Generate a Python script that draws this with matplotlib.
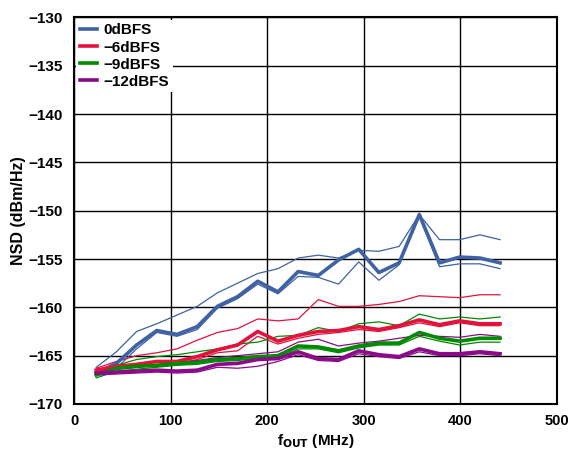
import matplotlib
matplotlib.use("Agg")
import matplotlib.pyplot as plt

plt.rcParams['font.family'] = ['Liberation Sans', 'DejaVu Sans']
plt.rcParams['font.weight'] = 'bold'

freq_mhz = [23.0, 43.9, 64.8, 85.7, 106.6, 127.5, 148.4, 169.3, 190.2, 211.1, 232.0,
            252.9, 273.8, 294.7, 315.6, 336.5, 357.4, 378.3, 399.2, 420.1, 441.0]

# 0 dBFS: typical plus upper/lower spread
nsd_0_typ = [-166.8, -165.8, -163.9, -162.4, -162.8, -162.0, -159.9, -158.9, -157.3, -158.4, -156.3,
             -156.7, -155.1, -154.0, -156.4, -155.4, -150.4, -155.4, -154.8, -154.9, -155.4]
nsd_0_hi = [-166.2, -164.6, -162.5, -161.7, -160.8, -159.9, -158.5, -157.5, -156.5, -156.0, -154.9,
            -154.6, -154.9, -154.1, -154.2, -153.7, -150.4, -153.0, -153.0, -152.5, -153.0]
nsd_0_lo = [-167.0, -166.3, -164.3, -162.6, -163.0, -162.3, -160.1, -159.1, -157.6, -158.6, -156.8,
            -156.9, -157.6, -155.3, -157.2, -155.6, -150.6, -155.8, -155.5, -155.5, -156.0]

# -6 dBFS
nsd_6_typ = [-166.5, -166.1, -165.9, -165.6, -165.6, -165.1, -164.4, -163.9, -162.5, -163.5, -162.9,
             -162.5, -162.4, -162.0, -162.3, -161.9, -161.3, -161.8, -161.4, -161.7, -161.7]
nsd_6_hi = [-166.3, -165.6, -165.0, -164.7, -164.3, -163.4, -162.6, -162.2, -161.2, -161.4, -161.2,
            -159.2, -159.9, -159.9, -159.7, -159.4, -158.8, -158.9, -159.0, -158.7, -158.7]
nsd_6_lo = [-166.8, -166.4, -166.2, -165.9, -165.8, -165.4, -164.7, -164.5, -163.0, -163.8, -163.2,
            -162.8, -162.6, -162.3, -162.5, -162.1, -161.6, -162.0, -161.6, -161.9, -161.9]

# -9 dBFS
nsd_9_typ = [-167.0, -166.3, -166.1, -166.0, -165.8, -165.7, -165.4, -165.3, -165.1, -165.0, -164.0,
             -164.1, -164.5, -164.0, -163.7, -163.7, -162.6, -163.2, -163.5, -163.2, -163.2]
nsd_9_hi = [-166.8, -166.0, -165.4, -165.1, -164.9, -164.6, -164.3, -163.8, -163.6, -163.0, -162.9,
            -162.1, -162.5, -161.7, -161.5, -161.9, -160.7, -161.2, -161.0, -161.2, -161.0]
nsd_9_lo = [-167.3, -166.6, -166.4, -166.2, -166.0, -165.9, -165.6, -165.5, -165.3, -165.2, -164.3,
            -164.3, -164.7, -164.2, -163.9, -163.9, -163.0, -163.5, -163.9, -163.6, -163.6]

# -12 dBFS
nsd_12_typ = [-166.8, -166.7, -166.6, -166.5, -166.6, -166.5, -165.9, -165.8, -165.4, -165.3, -164.6,
              -165.3, -165.4, -164.5, -164.9, -165.1, -164.3, -164.8, -164.8, -164.6, -164.8]
nsd_12_hi = [-166.6, -166.4, -166.2, -166.0, -165.7, -165.5, -165.2, -165.0, -164.8, -164.6, -163.6,
             -163.3, -164.0, -163.7, -163.5, -163.2, -162.9, -163.0, -163.1, -162.8, -163.0]
nsd_12_lo = [-167.0, -166.9, -166.8, -166.7, -166.8, -166.7, -166.2, -166.3, -166.1, -165.6, -164.9,
             -165.5, -165.6, -164.8, -165.1, -165.3, -164.6, -165.0, -165.0, -164.8, -165.0]

series = [
    ("0dBFS", "#3E62A3", nsd_0_typ, nsd_0_hi, nsd_0_lo),
    ("\u22126dBFS", "#E3123C", nsd_6_typ, nsd_6_hi, nsd_6_lo),
    ("\u22129dBFS", "#008A00", nsd_9_typ, nsd_9_hi, nsd_9_lo),
    ("\u221212dBFS", "#8A0A8A", nsd_12_typ, nsd_12_hi, nsd_12_lo),
]

fig = plt.figure(figsize=(5.71, 4.57), dpi=100)
ax = fig.add_axes([0.1296, 0.116, 0.846, 0.846])

handles = []
for label, color, typ, hi, lo in series:
    ax.plot(freq_mhz, hi, color=color, lw=0.9, zorder=3)
    ax.plot(freq_mhz, lo, color=color, lw=0.9, zorder=3)
    h, = ax.plot(freq_mhz, typ, color=color, lw=2.6, zorder=4, label=label)
    handles.append(h)

ax.set_xlim(0, 500)
ax.set_ylim(-170, -130)
ax.set_xticks(range(0, 501, 100))
ax.set_yticks(range(-170, -129, 5))
ax.set_yticklabels([f"\u2212{abs(v)}" for v in range(-170, -129, 5)])
ax.grid(True, color="black", lw=1.0, zorder=1)
ax.set_axisbelow(True)
ax.tick_params(axis='y', length=0, labelsize=11, pad=8)
ax.tick_params(axis='x', length=0, labelsize=10.5, pad=7)
for lbl in ax.get_xticklabels() + ax.get_yticklabels():
    lbl.set_fontweight('bold')
for sp in ax.spines.values():
    sp.set_linewidth(1.5)
    sp.set_color("black")

ax.set_xlabel(r"f$_{\mathbf{OUT}}$ (MHz)", fontsize=11, fontweight='bold', labelpad=3)
ax.set_ylabel("NSD (dBm/Hz)", fontsize=11.5, fontweight='bold', labelpad=2)

leg = ax.legend(handles=handles, loc="upper left", frameon=True, fancybox=False,
                edgecolor="none", facecolor="white", framealpha=1.0,
                prop={'weight': 'bold', 'size': 11}, handlelength=1.1,
                handletextpad=0.45, labelspacing=0.2, borderpad=0.25,
                borderaxespad=0.15)
leg.set_zorder(5)

fig.savefig("out.png", dpi=100)
